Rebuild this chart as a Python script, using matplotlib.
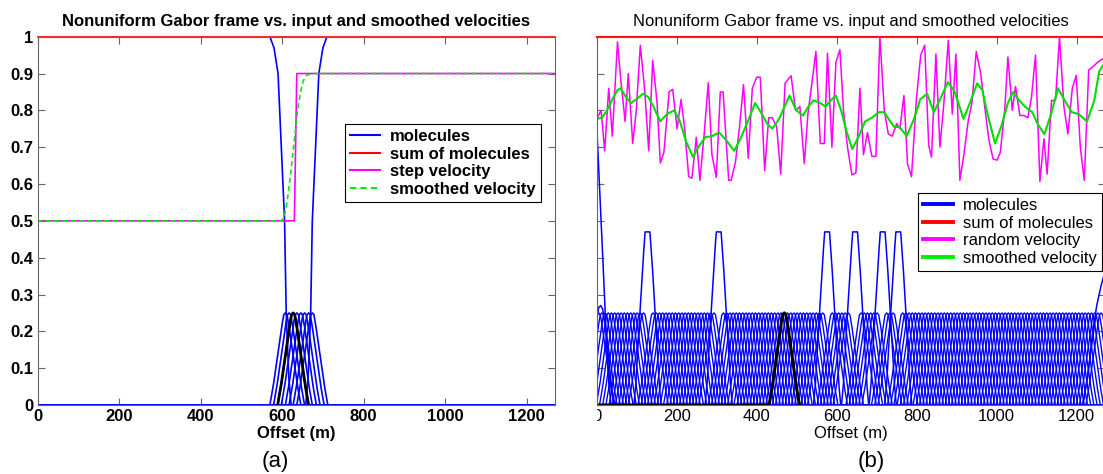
import numpy as np
import matplotlib.pyplot as plt
from matplotlib.lines import Line2D
from matplotlib.patches import Rectangle

plt.rcParams['font.family'] = ['Liberation Sans', 'DejaVu Sans']

# ============================================================================
# DATOS
# ============================================================================

x_max = 1270  # m, extremo del eje
sum_x = [0, 1270]
sum_v = [1.0, 1.0]

# --- (a) velocidad escalon y suavizada ---
step_x = [0, 630, 636, 1270]
step_v = [0.5, 0.5, 0.9, 0.9]
smooth_a_x = [0, 598, 605, 612, 620, 626, 632, 638, 645, 652, 660, 672, 1270]
smooth_a_v = [0.5, 0.5, 0.51, 0.55, 0.62, 0.68, 0.74, 0.80, 0.85, 0.88, 0.895, 0.9, 0.9]

# moleculas de borde en (a)
edge_a1_x = [0, 570, 580, 590, 598, 606, 610, 616, 622]
edge_a1_y = [1, 1, 0.97, 0.9, 0.7, 0.5, 0.25, 0.08, 0]
edge_a2_x = [658, 664, 670, 674, 682, 690, 700, 710, 1270]
edge_a2_y = [0, 0.08, 0.25, 0.5, 0.7, 0.9, 0.97, 1, 1]
bump_a_centers = [608, 617, 627, 636, 646, 655, 665, 674]
black_a = 627

# perfil de una molecula normal (desplazamiento en m, amplitud)
prof_off = [-38, -30, -8, -4, 0, 4, 8, 30, 38]
prof_val = [0, 0.05, 0.22, 0.245, 0.25, 0.245, 0.22, 0.05, 0]
# perfil de una molecula ancha (huecos del marco en (b))
wide_off = [-34, -29, -24, -19, -12, -6, 6, 12, 19, 24, 29, 34]
wide_val = [0, 0.06, 0.16, 0.25, 0.38, 0.47, 0.47, 0.38, 0.25, 0.16, 0.06, 0]

# --- (b) velocidad aleatoria y suavizada ---
rand_x = [0, 11, 20, 30, 39, 52, 60, 71, 79, 90, 99, 109, 120, 130, 140, 151, 159,
          168, 181, 190, 201, 211, 219, 230, 238, 249, 258, 269, 279, 288, 299, 309,
          316, 330, 336, 347, 357, 367, 379, 389, 400, 409, 420, 430, 439, 450, 460,
          471, 486, 497, 508, 519, 528, 538, 548, 559, 569, 577, 588, 598, 608, 617,
          627, 638, 648, 658, 667, 677, 688, 698, 708, 719, 729, 739, 750, 758, 768,
          777, 787, 799, 810, 820, 830, 837, 848, 858, 868, 879, 889, 898, 908, 918,
          929, 938, 949, 960, 970, 980, 991, 1001, 1009, 1020, 1028, 1039, 1047, 1058,
          1068, 1078, 1087, 1097, 1108, 1118, 1126, 1137, 1147, 1157, 1168, 1178,
          1189, 1199, 1209, 1219, 1230, 1240, 1252, 1265]
rand_v = [0.777, 0.80, 0.69, 0.86, 0.73, 0.986, 0.886, 0.77, 0.90, 0.71, 0.80, 0.977,
          0.855, 0.69, 0.936, 0.82, 0.657, 0.686, 0.85, 0.857, 0.75, 0.83, 0.76, 0.62,
          0.616, 0.727, 0.61, 0.74, 0.875, 0.68, 0.618, 0.85, 0.85, 0.61, 0.61, 0.66,
          0.755, 0.87, 0.67, 0.86, 0.89, 0.89, 0.636, 0.78, 0.78, 0.755, 0.627, 0.874,
          0.894, 0.80, 0.81, 0.655, 0.79, 0.874, 0.96, 0.71, 0.71, 0.955, 0.70, 0.93,
          0.965, 0.80, 0.70, 0.625, 0.63, 0.86, 0.68, 0.74, 0.675, 0.675, 1.0, 0.80,
          0.736, 0.73, 0.764, 0.75, 0.84, 0.655, 0.62, 0.827, 0.95, 0.977, 0.705, 0.673,
          0.953, 0.70, 0.82, 0.99, 0.79, 0.953, 0.61, 0.68, 0.773, 0.82, 0.96, 0.90,
          0.81, 0.723, 0.668, 0.665, 0.686, 0.80, 0.945, 0.80, 0.865, 0.786, 0.786,
          0.78, 0.836, 0.95, 0.607, 0.723, 0.627, 0.827, 0.827, 1.0, 0.81, 0.736, 0.86,
          0.895, 0.70, 0.61, 0.91, 0.918, 0.93, 0.94]
smooth_b_x = [0, 13, 26, 39, 52, 60, 73, 86, 99, 116, 129, 142, 159, 176, 194, 207,
              224, 241, 254, 271, 288, 306, 323, 344, 361, 379, 396, 413, 426, 439, 456,
              482, 499, 516, 529, 542, 559, 572, 585, 598, 611, 624, 639, 654, 671, 688,
              706, 719, 732, 744, 757, 775, 792, 809, 826, 843, 861, 878, 895, 917, 934,
              951, 964, 977, 996, 1011, 1028, 1041, 1054, 1071, 1089, 1102, 1119, 1136,
              1153, 1170, 1188, 1205, 1226, 1244, 1256, 1270]
smooth_b_v = [0.777, 0.78, 0.80, 0.83, 0.855, 0.86, 0.836, 0.82, 0.83, 0.845, 0.836,
              0.81, 0.77, 0.79, 0.80, 0.773, 0.714, 0.673, 0.70, 0.727, 0.73, 0.74, 0.72,
              0.69, 0.727, 0.773, 0.82, 0.79, 0.764, 0.75, 0.777, 0.84, 0.80, 0.786, 0.81,
              0.827, 0.82, 0.81, 0.827, 0.84, 0.80, 0.745, 0.695, 0.727, 0.77, 0.78, 0.795,
              0.795, 0.773, 0.755, 0.755, 0.73, 0.773, 0.83, 0.845, 0.795, 0.836, 0.877,
              0.85, 0.777, 0.823, 0.873, 0.855, 0.79, 0.71, 0.755, 0.82, 0.85, 0.83, 0.81,
              0.795, 0.764, 0.735, 0.79, 0.86, 0.827, 0.795, 0.79, 0.77, 0.827, 0.905, 0.93]

# marco de moleculas en (b)
mesh_b_first = 5
mesh_b_step = 8
mesh_b_last = 1261
wide_b_centers = [127, 305, 576, 646, 715, 754]
black_b = 469
edge_b1_x = [0, 6, 12, 18, 24, 30, 36]
edge_b1_y = [0.76, 0.62, 0.48, 0.33, 0.18, 0.06, 0]
edge_b2_x = [0, 5, 10, 15, 22, 30, 38, 46]
edge_b2_y = [0.23, 0.265, 0.27, 0.26, 0.21, 0.12, 0.04, 0]
edge_b3_x = [1215, 1228, 1240, 1250, 1260, 1270]
edge_b3_y = [0, 0.08, 0.2, 0.27, 0.32, 0.36]

# ============================================================================
# FIGURA
# ============================================================================

xs = np.arange(0, x_max + 0.5, 0.5)


def molecule(center, off, val):
    return np.interp(xs, center + np.asarray(off, float), val, left=0, right=0)


W, H = 1103, 474
fig = plt.figure(figsize=(W / 100, H / 100), dpi=100)


def px_axes(l, t, r, b):
    return fig.add_axes([l / W, 1 - b / H, (r - l) / W, (b - t) / H])


ax1 = px_axes(37.5, 36.7, 555.3, 405)
ax2 = px_axes(596.7, 36.7, 1104.7, 405)

BLUE, RED, MAG, GREEN = '#0000ff', '#ff0000', '#ff00ff', '#00ee00'

# ---- (a) ----
ax1.plot(xs, np.interp(xs, edge_a1_x, edge_a1_y, right=0), color=BLUE, lw=1.2)
ax1.plot(xs, np.interp(xs, edge_a2_x, edge_a2_y, left=0), color=BLUE, lw=1.2)
for c in bump_a_centers:
    ax1.plot(xs, molecule(c, prof_off, prof_val), color=BLUE, lw=1.2)
mb = molecule(black_a, prof_off, prof_val)
sup = (xs >= black_a + prof_off[0]) & (xs <= black_a + prof_off[-1])
ax1.plot(xs[sup], mb[sup], color='black', lw=2)
ax1.plot(sum_x, sum_v, color=RED, lw=1.2, clip_on=False)
ax1.plot(step_x, step_v, color=MAG, lw=1.2)
ax1.plot(smooth_a_x, smooth_a_v, color=GREEN, lw=1.2, ls=(0, (3, 2)))

leg1 = ax1.legend(
    [Line2D([], [], color=BLUE, lw=1.5), Line2D([], [], color=RED, lw=1.5),
     Line2D([], [], color=MAG, lw=1.5), Line2D([], [], color=GREEN, lw=1.5, ls=(0, (3, 2)))],
    ['molecules', 'sum of molecules', 'step velocity', 'smoothed velocity'],
    loc='upper right', bbox_to_anchor=(0.972, 0.7625), borderaxespad=0,
    prop={'size': 12, 'weight': 'bold'}, fancybox=False, framealpha=1,
    handlelength=1.8, handletextpad=0.6, labelspacing=0.15, borderpad=0.3)
leg1.get_frame().set_edgecolor('black')
leg1.get_frame().set_linewidth(0.8)

# ---- (b) ----
mesh_centers = np.arange(mesh_b_first, mesh_b_last + 1, mesh_b_step)
for c in mesh_centers:
    if min(abs(c - w) for w in wide_b_centers) <= 9:
        continue
    ax2.plot(xs, molecule(c, prof_off, prof_val), color=BLUE, lw=1.0)
for w in wide_b_centers:
    ax2.plot(xs, molecule(w, wide_off, wide_val), color=BLUE, lw=1.1)
ax2.plot(xs, np.interp(xs, edge_b1_x, edge_b1_y, right=0), color=BLUE, lw=1.1)
ax2.plot(xs, np.interp(xs, edge_b2_x, edge_b2_y, right=0), color=BLUE, lw=1.1)
ax2.plot(xs, np.interp(xs, edge_b3_x, edge_b3_y, left=0), color=BLUE, lw=1.1)
mb = molecule(black_b, prof_off, prof_val)
sup = xs <= black_b + prof_off[-1]
ax2.plot(xs[sup], mb[sup], color='black', lw=2.2)
ax2.plot(sum_x, sum_v, color=RED, lw=1.5, clip_on=False)
ax2.plot(rand_x, rand_v, color=MAG, lw=1.1)
ax2.plot(smooth_b_x, smooth_b_v, color='#00dd00', lw=1.5)

leg2 = ax2.legend(
    [Line2D([], [], color=BLUE, lw=2.8), Line2D([], [], color=RED, lw=2.8),
     Line2D([], [], color=MAG, lw=2.8), Line2D([], [], color='#00ee00', lw=2.8)],
    ['molecules', 'sum of molecules', 'random velocity', 'smoothed velocity'],
    loc='upper right', bbox_to_anchor=(0.995, 0.575), borderaxespad=0,
    prop={'size': 12}, fancybox=False, framealpha=1,
    handlelength=1.8, handletextpad=0.6, labelspacing=0.15, borderpad=0.3)
leg2.get_frame().set_edgecolor('black')
leg2.get_frame().set_linewidth(0.8)

# ---- ejes ----
title = 'Nonuniform Gabor frame vs. input and smoothed velocities'
for ax, wt in ((ax1, 'bold'), (ax2, 'normal')):
    ax.set_xlim(0, x_max)
    ax.set_ylim(0, 1)
    ax.set_xticks(range(0, 1201, 200))
    ax.set_yticks(np.round(np.arange(0, 1.01, 0.1), 1))
    ax.tick_params(direction='in', top=True, right=True, length=5, width=0.8,
                   color='#666666', labelsize=12, pad=3)
    for s in ax.spines.values():
        s.set_color('#666666')
        s.set_linewidth(0.8)
    for lab in ax.get_xticklabels():
        lab.set_fontweight(wt)
    ax.set_title(title, fontsize=12, fontweight=wt, pad=8)
    ax.set_xlabel('Offset (m)', fontsize=12, fontweight=wt, labelpad=1)

ax1.set_yticklabels(['0', '0.1', '0.2', '0.3', '0.4', '0.5', '0.6', '0.7', '0.8', '0.9', '1'],
                    fontweight='bold')
ax2.set_yticklabels([])

# recorte del "0" en (b)
fig.patches.append(Rectangle((570 / W, 1 - 432 / H), 25.5 / W, 24 / H,
                             transform=fig.transFigure, color='white', zorder=10))

fig.text(275 / W, 1 - 462 / H, '(a)', fontsize=16, ha='center', va='center')
fig.text(871 / W, 1 - 461 / H, '(b)', fontsize=16, ha='center', va='center')

plt.savefig('out.png', dpi=100)
